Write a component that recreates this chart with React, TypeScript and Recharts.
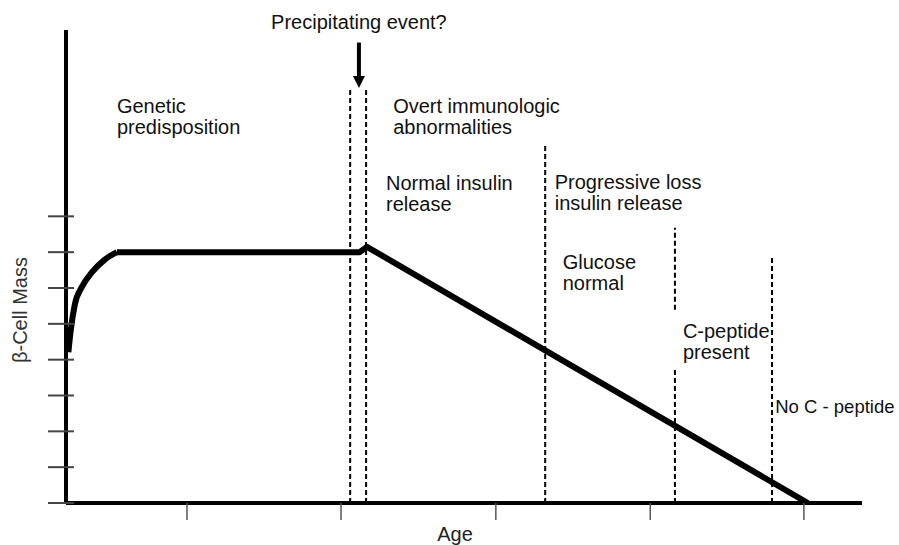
import { ComposedChart, Line, XAxis, YAxis, ReferenceLine, ReferenceDot, Label } from 'recharts';

// beta-cell mass curve (age in arbitrary units 0-100)
const riseAge = [0.3, 0.6, 1.1, 2.0, 3.3, 4.8, 6.4];
const riseMass = [4.21, 4.83, 5.53, 6.03, 6.45, 6.78, 7.0];
const fallAge = [6.4, 36.9, 37.8, 93.2];
const fallMass = [7.0, 7.0, 7.15, 0];

const xTicks = [15.2, 34.55, 54.0, 73.4, 92.7];
const yTicks = [0, 1, 2, 3, 4, 5, 6, 7, 8];

// dashed stage boundaries
const boundaryAge = [35.7, 37.7, 60.2, 76.5, 88.7];
const boundaryTop = [11.58, 11.58, 9.99, 7.68, 6.84];
const boundaryGap: (number[] | null)[] = [null, null, null, [3.71, 5.39], null];

// stage notes
const noteText = [
  ['Genetic', 'predisposition'],
  ['Overt immunologic', 'abnormalities'],
  ['Normal insulin', 'release'],
  ['Progressive loss', 'insulin release'],
  ['Glucose', 'normal'],
  ['C-peptide', 'present'],
  ['No C - peptide'],
];
const noteAge = [6.4, 41.1, 40.2, 61.4, 62.4, 77.5, 89.1];
const noteMass = [10.88, 10.88, 8.74, 8.76, 6.53, 4.6, 2.51];

const eventText = 'Precipitating event?';
const eventAge = 36.8;
const eventMass = [13.23, 12.85, 11.58]; // text, arrow tail, arrow tip

const font = '"Liberation Sans", Arial, sans-serif';
const fontSize = 20;

const riseData = riseAge.map((a, i) => ({ age: a, mass: riseMass[i] }));
const fallData = fallAge.map((a, i) => ({ age: a, mass: fallMass[i] }));

const noteLabel = (lines: string[], anchor: 'start' | 'middle' = 'start', size = fontSize) => (props: any) => {
  const vb = props.viewBox || {};
  return (
    <text x={vb.x} y={vb.y} fill="#111" fontSize={size} fontFamily={font} textAnchor={anchor}>
      {lines.map((t, i) => (
        <tspan key={i} x={vb.x} dy={i === 0 ? 0 : 21}>{t}</tspan>
      ))}
    </text>
  );
};

const arrowShape = (p: any) => {
  const { x1, y1, x2, y2 } = p;
  return (
    <g>
      <line x1={x1} y1={y1} x2={x2} y2={y2 - 10} stroke="#000" strokeWidth={4} />
      <polygon points={`${x2 - 6},${y2 - 12} ${x2 + 6},${y2 - 12} ${x2},${y2}`} fill="#000" />
    </g>
  );
};

const yTick = (p: any) => (
  <line x1={p.x} x2={p.x + 26} y1={p.y} y2={p.y} stroke="#444" strokeWidth={2} />
);

const xTick = (p: any) => (
  <line x1={p.x} x2={p.x} y1={p.y - 17} y2={p.y} stroke="#555" strokeWidth={1.5} />
);

const ageLabel = (p: any) => {
  const vb = p.viewBox;
  return (
    <text x={vb.x + vb.width / 2 - 9} y={vb.y + 38} textAnchor="middle" fill="#222" fontSize={fontSize} fontFamily={font}>
      Age
    </text>
  );
};

const massLabel = (p: any) => {
  const vb = p.viewBox;
  const x = vb.x + 27;
  const y = vb.y + 280;
  return (
    <text x={x} y={y} transform={`rotate(-90 ${x} ${y})`} textAnchor="middle" fill="#333" fontSize={fontSize} fontFamily={font}>
      β-Cell Mass
    </text>
  );
};

export default function App() {
  return (
    <div style={{ position: 'absolute', left: 0, top: 0, width: 899, height: 545, background: '#fff' }}>
      <ComposedChart width={899} height={545} margin={{ top: 30, right: 37, bottom: 0, left: 0 }}>
        <XAxis
          type="number"
          dataKey="age"
          domain={[0, 100]}
          ticks={xTicks}
          allowDataOverflow
          tick={xTick}
          tickLine={false}
          tickSize={17}
          tickMargin={0}
          axisLine={{ stroke: '#000', strokeWidth: 4 }}
          height={42}
        >
          <Label content={ageLabel} />
        </XAxis>
        <YAxis
          type="number"
          dataKey="mass"
          domain={[0, 13.2]}
          ticks={yTicks}
          allowDataOverflow
          width={66}
          tickLine={false}
          tickSize={18}
          tickMargin={0}
          tick={yTick}
          axisLine={{ stroke: '#000', strokeWidth: 4 }}
        >
          <Label content={massLabel} />
        </YAxis>

        {boundaryAge.map((a, i) => {
          const gap = boundaryGap[i];
          const parts = gap ? [[0, gap[0]], [gap[1], boundaryTop[i]]] : [[0, boundaryTop[i]]];
          return parts.map((seg, j) => (
            <ReferenceLine
              key={`b-${i}-${j}`}
              segment={[{ x: a, y: seg[0] }, { x: a, y: seg[1] }]}
              stroke="#000"
              strokeWidth={2}
              strokeDasharray="5 3"
            />
          ));
        })}

        <ReferenceLine
          segment={[{ x: eventAge, y: eventMass[1] }, { x: eventAge, y: eventMass[2] }]}
          shape={arrowShape}
        />

        <Line data={riseData} dataKey="mass" type="monotone" stroke="#000" strokeWidth={6} dot={false} activeDot={false} isAnimationActive={false} />
        <Line data={fallData} dataKey="mass" type="linear" stroke="#000" strokeWidth={6} strokeLinejoin="round" dot={false} activeDot={false} isAnimationActive={false} />

        {noteText.map((lines, i) => (
          <ReferenceDot
            key={`n-${i}`}
            x={noteAge[i]}
            y={noteMass[i]}
            r={0}
            fill="none"
            stroke="none"
            ifOverflow="visible"
            label={{ content: noteLabel(lines, 'start', i === noteText.length - 1 ? 18.5 : fontSize) }}
          />
        ))}
        <ReferenceDot
          x={eventAge}
          y={eventMass[0]}
          r={0}
          fill="none"
          stroke="none"
          ifOverflow="visible"
          label={{ content: noteLabel([eventText], 'middle') }}
        />
      </ComposedChart>
    </div>
  );
}
